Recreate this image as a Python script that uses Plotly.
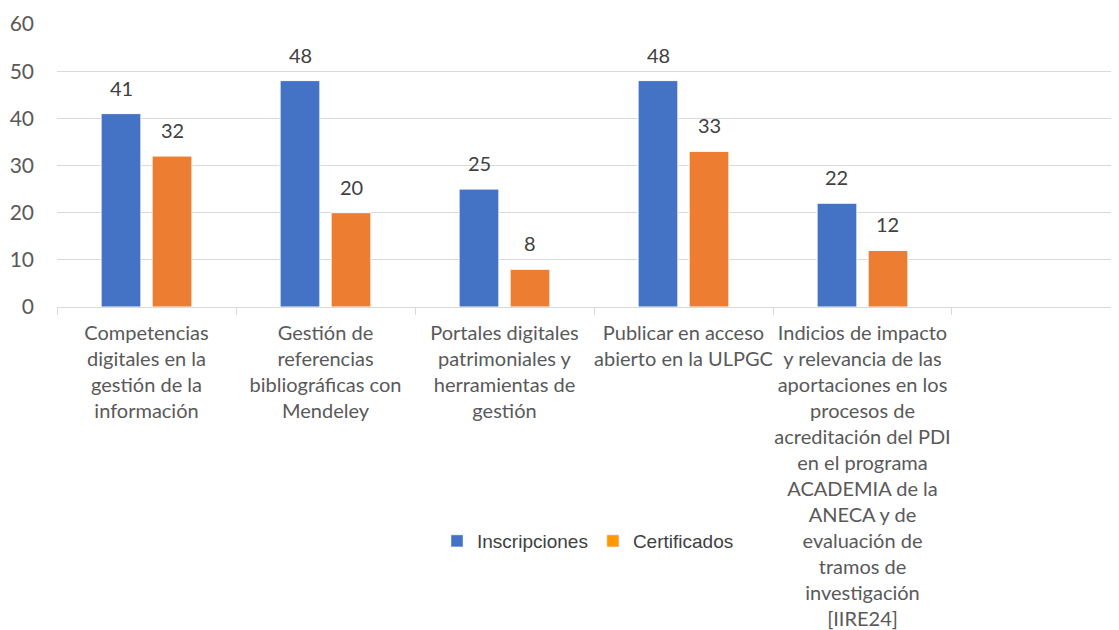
import plotly.graph_objects as go

categories = [
    "Competencias<br>digitales en la<br>gestión de la<br>información",
    "Gestión de<br>referencias<br>bibliográficas con<br>Mendeley",
    "Portales digitales<br>patrimoniales y<br>herramientas de<br>gestión",
    "Publicar en acceso<br>abierto en la ULPGC",
    "Indicios de impacto<br>y relevancia de las<br>aportaciones en los<br>procesos de<br>acreditación del PDI<br>en el programa<br>ACADEMIA de la<br>ANECA y de<br>evaluación de<br>tramos de<br>investigación<br>[IIRE24]",
]
inscripciones = [41, 48, 25, 48, 22]
certificados = [32, 20, 8, 33, 12]
y_ticks = [0, 10, 20, 30, 40, 50, 60]

BLUE = "#4472C4"
ORANGE = "#ED7D31"
LEG_ORANGE = "#FF9900"
FONT = "Lato, sans-serif"

fig = go.Figure()
fig.add_trace(go.Bar(x=categories, y=inscripciones, name="Inscripciones",
                     marker=dict(color=BLUE, line=dict(color="white", width=1)),
                     offsetgroup="a", showlegend=False, hoverinfo="y"))
fig.add_trace(go.Bar(x=categories, y=certificados, name="Certificados",
                     marker=dict(color=ORANGE, line=dict(color="white", width=1)),
                     offsetgroup="b", showlegend=False, hoverinfo="y"))
# legend-only entries (legend swatch colours differ in the reference)
fig.add_trace(go.Bar(x=[categories[0]], y=[None], name="Inscripciones",
                     marker=dict(color=BLUE), offsetgroup="a"))
fig.add_trace(go.Bar(x=[categories[0]], y=[None], name="Certificados",
                     marker=dict(color=LEG_ORANGE), offsetgroup="b"))

annotations = []
for series, dx in ((inscripciones, -25.5), (certificados, 25.5)):
    for c, v in zip(categories, series):
        annotations.append(dict(x=c, y=v, xref="x", yref="y", text=str(v),
                                showarrow=False, xshift=dx, yshift=26,
                                yanchor="middle",
                                font=dict(family=FONT, size=20, color="#404040")))

fig.update_layout(
    width=1111, height=622,
    margin=dict(l=49, r=0, t=16, b=323),
    paper_bgcolor="white", plot_bgcolor="white",
    barmode="group", bargap=0.43, bargroupgap=0.22,
    annotations=annotations,
    legend=dict(orientation="h", x=0.5, xanchor="center", y=-0.827, yanchor="middle",
                font=dict(family="Liberation Sans, Arial, sans-serif", size=19, color="#404040"),
                itemclick=False),
    xaxis=dict(type="category", range=[-0.5, 5.433], showgrid=False, automargin=False,
               showline=True, linecolor="#D9D9D9", linewidth=1,
               ticks="outside", tickson="boundaries", ticklen=7, tickcolor="#D9D9D9",
               tickwidth=1, ticklabelstandoff=8,
               tickfont=dict(family=FONT, size=20, color="#595959"),
               tickangle=0, fixedrange=True),
    yaxis=dict(range=[0, 60], tickvals=y_ticks, showgrid=True, gridcolor="#D9D9D9",
               gridwidth=1, zeroline=False, showline=False, automargin=False,
               tickfont=dict(family=FONT, size=21, color="#595959"),
               ticklabelstandoff=22, fixedrange=True),
)

fig.write_html("out.html")
